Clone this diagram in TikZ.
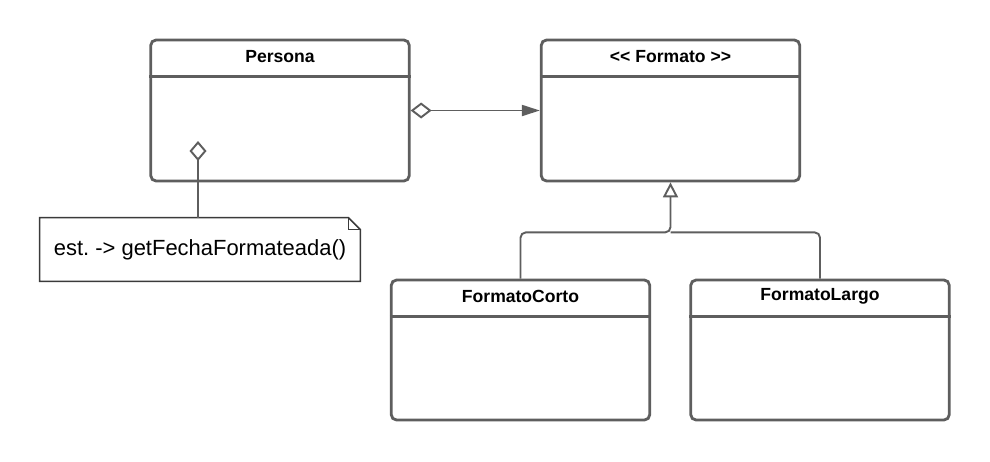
\documentclass[tikz,border=0pt]{standalone}
\usepackage{fontspec}
\setmainfont{Liberation Sans}
\usetikzlibrary{calc,arrows.meta}
\definecolor{gris}{HTML}{5E5E5E}
\definecolor{grisnota}{HTML}{3A3A3A}

\begin{document}
\begin{tikzpicture}[x=0.02cm,y=-0.02cm,
    clase/.style={draw=gris,line width=1.6pt,rounded corners=3pt,minimum width=5.17cm,minimum height=2.82cm,inner sep=0pt},
    titulo/.style={font=\fontsize{10}{12}\selectfont\bfseries,text=black,inner sep=0pt},
    conector/.style={draw=gris,line width=1.1pt}]

    % Lienzo: 990 x 461 px, eje y hacia abajo
    \useasboundingbox (0,0) rectangle (990,461);

    % Clases superiores
    \node[clase] (persona) at (280,110.5) {};
    \node[clase] (formato) at (670.5,110.5) {};

    % Clases concretas
    \node[clase, minimum height=2.8cm] (corto) at (520.5,350) {};
    \node[clase, minimum height=2.8cm] (largo) at (820,350) {};

    % Separadores de cabecera
    \draw[gris,line width=1.6pt] ($(persona.north west)+(0,38)$) -- ($(persona.north east)+(0,38)$);
    \draw[gris,line width=1.6pt] ($(formato.north west)+(0,38)$) -- ($(formato.north east)+(0,38)$);
    \draw[gris,line width=1.6pt] ($(corto.north west)+(0,38)$) -- ($(corto.north east)+(0,38)$);
    \draw[gris,line width=1.6pt] ($(largo.north west)+(0,38)$) -- ($(largo.north east)+(0,38)$);

    % Nombres
    \node[titulo] (persona-nombre) at ($(persona.north)+(0,18)$) {Persona};
    \node[titulo] (formato-nombre) at ($(formato.north)+(0,18)$) {{<}{<} Formato {>}{>}};
    \node[titulo] (corto-nombre) at ($(corto.north)+(0,18)$) {FormatoCorto};
    \node[titulo] (largo-nombre) at ($(largo.north)+(0,18)$) {FormatoLargo};

    % Nota con esquina doblada
    \node[minimum width=6.4cm,minimum height=1.26cm,inner sep=0pt,font=\fontsize{12.5}{15}\selectfont\frenchspacing] (nota) at (200,249.5) {est. -> getFechaFormateada()};
    \draw[grisnota,line width=0.9pt] (nota.south west) -- (nota.north west) -- ($(nota.north east)+(-12,0)$) -- ($(nota.north east)+(0,12)$) -- (nota.south east) -- cycle;
    \draw[grisnota,line width=0.9pt] ($(nota.north east)+(-12,0)$) -- ($(nota.north east)+(-12,12)$) -- ($(nota.north east)+(0,12)$);

    % Agregacion Persona -> Formato
    \draw[conector,{Diamond[open,length=0.42cm,width=0.32cm,fill=white]}-{Triangle[length=0.36cm,width=0.22cm]}] (persona.east) -- (formato.west);

    % Nota enlazada a Persona
    \coordinate (persona-ancla) at (198,141);
    \draw[conector,-{Diamond[open,length=0.4cm,width=0.34cm,fill=white]}] (nota.north -| persona-ancla) -- (persona-ancla);

    % Herencia
    \coordinate (union) at ($(formato.south)+(0,50)$);
    \draw[conector,rounded corners=3pt] (largo.north) |- (union);
    \draw[conector,rounded corners=3pt,-{Triangle[open,length=0.3cm,width=0.3cm,fill=white]}] (corto.north) |- (union) -- (formato.south);
\end{tikzpicture}
\end{document}
